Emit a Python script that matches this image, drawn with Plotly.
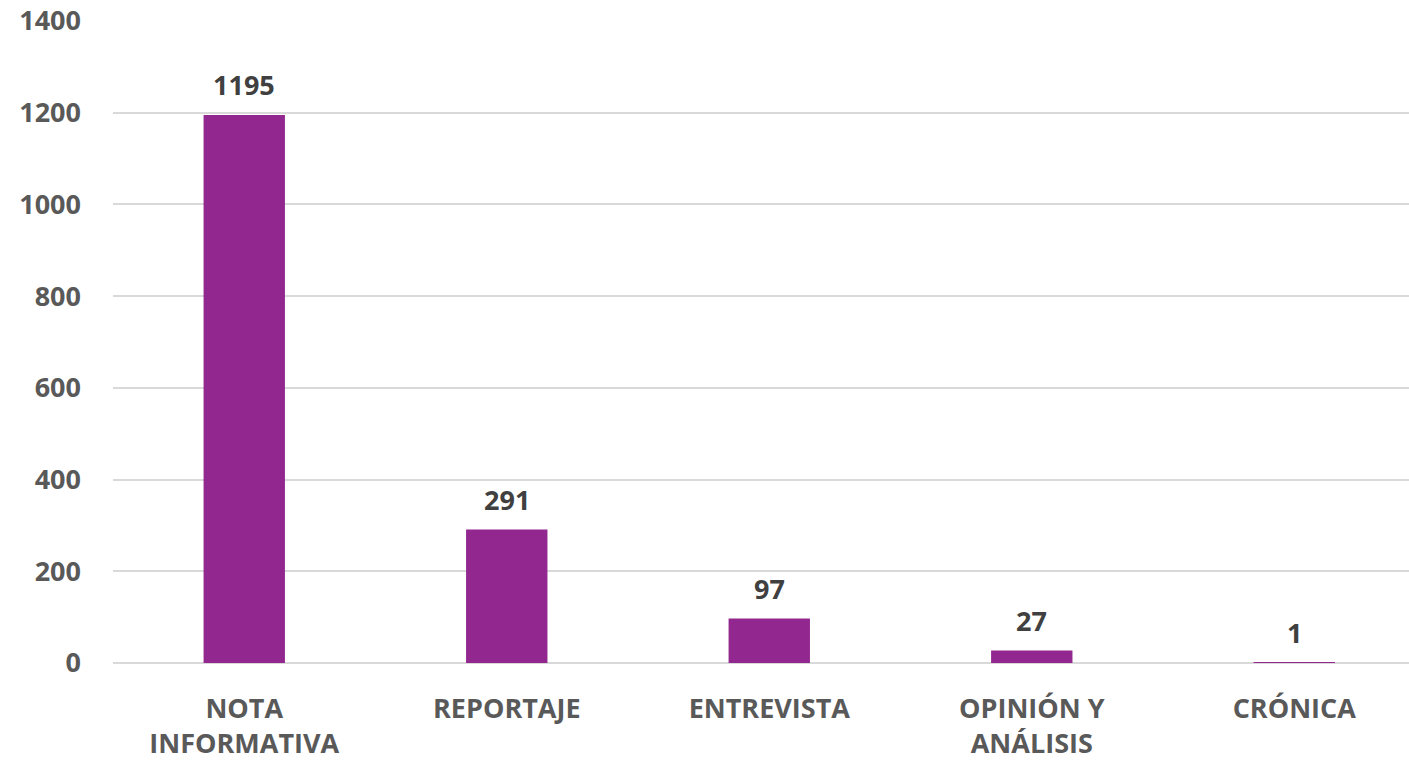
import plotly.graph_objects as go

categories = ["NOTA<br>INFORMATIVA", "REPORTAJE", "ENTREVISTA", "OPINIÓN Y<br>ANÁLISIS", "CRÓNICA"]
values = [1195, 291, 97, 27, 1]
y_ticks = [0, 200, 400, 600, 800, 1000, 1200, 1400]

bar_color = "#92278F"
font_family = "Open Sans, Liberation Sans, sans-serif"

fig = go.Figure()
fig.add_trace(go.Bar(
    x=list(range(len(categories))),
    y=values,
    marker=dict(color=bar_color, line=dict(width=0)),
    width=0.31,
    hoverinfo="skip",
))

for i, v in enumerate(values):
    fig.add_annotation(
        x=i, y=v, text=f"<b>{v}</b>", showarrow=False,
        yanchor="bottom", yshift=10,
        font=dict(family=font_family, size=27, color="#404040"),
    )

fig.update_layout(
    width=1409, height=761,
    margin=dict(l=113, r=0, t=21, b=96),
    paper_bgcolor="white", plot_bgcolor="rgba(0,0,0,0)",
    showlegend=False,
    font=dict(family=font_family, size=27, color="#595959"),
    xaxis=dict(
        tickmode="array",
        tickvals=list(range(len(categories))),
        ticktext=[f"<b>{c}</b>" for c in categories],
        range=[-0.5, 4.437],
        showgrid=False, zeroline=False, showline=False,
        ticks="", ticklen=0,
        tickfont=dict(family=font_family, size=27, color="#595959"),
        ticklabelstandoff=27,
    ),
    yaxis=dict(
        range=[0, 1400],
        tickmode="array",
        tickvals=y_ticks,
        ticktext=[f"<b>{t}</b>" for t in y_ticks],
        showgrid=True, gridcolor="#D9D9D9", gridwidth=1.5,
        zeroline=True, zerolinecolor="#D9D9D9", zerolinewidth=1.5,
        showline=False, ticks="",
        tickfont=dict(family=font_family, size=27, color="#595959"),
        ticklabelstandoff=31,
    ),
)

fig.write_html(
    "out.html",
    config={"displayModeBar": False},
    post_script="document.body.style.margin='0px';document.body.style.overflow='hidden';",
)
